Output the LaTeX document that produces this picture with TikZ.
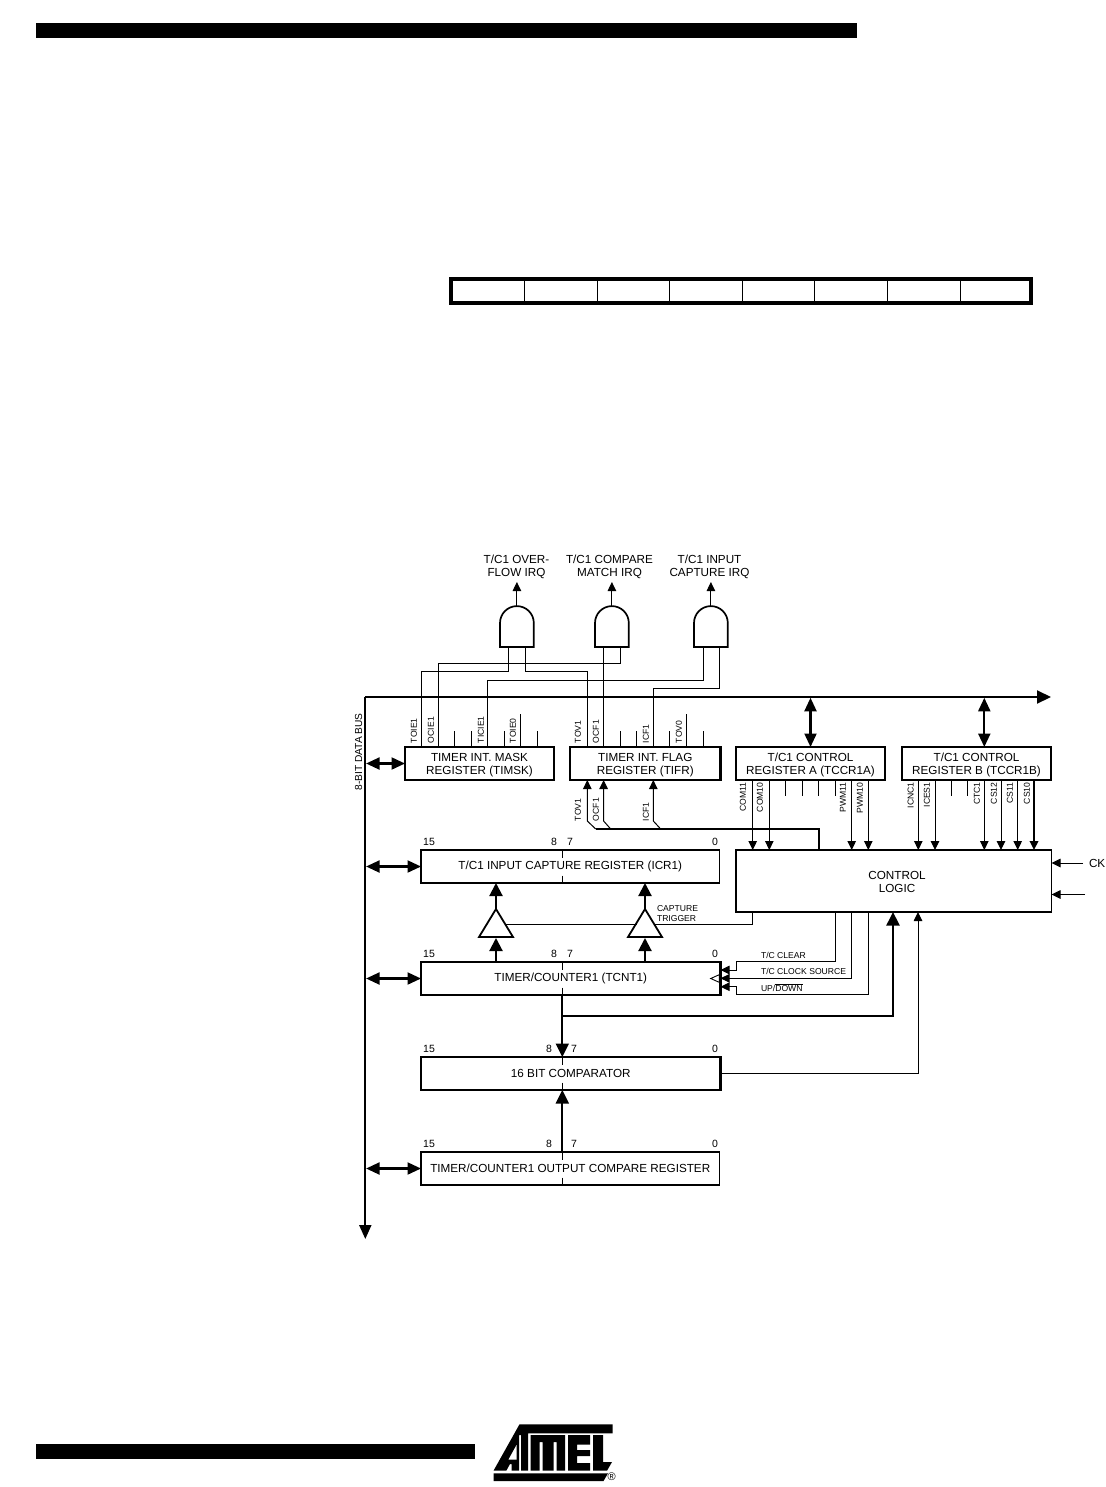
\documentclass[tikz,border=0pt]{standalone}
\usepackage{fontspec}
\setmainfont{Liberation Sans}
\usetikzlibrary{arrows.meta,calc}
\tikzset{
  x=1pt,y=-1pt,
  regbox/.style={draw=black,fill=white,line width=#1,rectangle,inner sep=0pt,outer sep=0pt,align=center,font=\fontsize{11.7}{13.5}\selectfont},
  regbox/.default=2.2pt,
  thinw/.style={line width=1pt,draw=black},
  thickw/.style={line width=2.1pt,draw=black},
  tipS/.style={-{Triangle[length=9pt,width=8.5pt]}},
  tipB/.style={-{Triangle[length=13.5pt,width=13pt]}},
  tipD/.style={{Triangle[length=13.5pt,width=12pt]}-{Triangle[length=13.5pt,width=12pt]}},
  tiny/.style={font=\fontsize{8.6}{9}\selectfont,inner sep=0pt,outer sep=0pt},
  bitl/.style={font=\fontsize{10.5}{11}\selectfont,inner sep=0pt,outer sep=0pt},
  big/.style={font=\fontsize{11.7}{13}\selectfont,inner sep=0pt,outer sep=0pt,align=center},
  gateS/.style={line width=1.7pt,draw=black,fill=white,line join=miter},
  trig/.style={line width=1.8pt,draw=black,fill=white,line join=miter},
}
\newcommand{\regnode}[6][2.2pt]{\node[regbox=#1,minimum width=#4-#3,minimum height=#6-#5] (#2) at ({(#3+#4)/2},{(#5+#6)/2})}
\newcommand{\dropline}{\rule{0pt}{11.4pt}}
\begin{document}
\begin{tikzpicture}
\useasboundingbox (0,0) rectangle (1105,1487);
\fill[white] (0,0) rectangle (1105,1487);
% page bars
\fill[black] (36,23) rectangle (857,38);
\fill[black] (36,1444) rectangle (475,1459);
% register table
\draw[black,line width=3.8pt] (451,279) rectangle (1031,302.8);
\foreach \x in {524,597,669,742,814,887,960} \draw[black,line width=1pt] (\x,279) -- (\x,302.8);

% column coordinates
\foreach \n/\x in {a/421.7,b/438,c/454.7,d/471,e/487.5,f/504,g/520.5,h/537.5,
  i/587.3,j/603.6,k/620.3,l/636.7,m/653.3,n/669.7,o/686,p/703,
  q/752.7,r/769.3,s/785.5,t/802.3,u/818.8,v/835.3,w/851.7,z/868.3,
  A/918.3,B/935,C/951.3,D/967.7,E/984.3,F/1001,G/1017.7,H/1034,
  X/562.3,Y/893,Z/918}
  \coordinate (c\n) at (\x,0);
\coordinate (busL) at (365.3,697);
\coordinate (busR) at (1051,697);
\coordinate (busB) at (365.3,1239);

% registers
\regnode{timsk}{405}{554}{747}{780} {\dropline TIMER INT. MASK\\REGISTER (TIMSK)};
\regnode{tifr}{570}{720.5}{747}{780} {\dropline TIMER INT. FLAG\\REGISTER (TIFR)};
\regnode[1.8pt]{tccra}{736}{885}{747}{780} {\dropline T/C1 CONTROL\\REGISTER A (TCCR1A)};
\regnode[1.8pt]{tccrb}{902}{1051}{747}{780} {\dropline T/C1 CONTROL\\REGISTER B (TCCR1B)};
\regnode[1.8pt]{ctrl}{736}{1051.5}{850}{912} {};
\node[big] (ctrltext) at (897,881.5) {CONTROL\\LOGIC};
\regnode[1.8pt]{icr}{421}{719.5}{850}{883} {T/C1 INPUT CAPTURE REGISTER (ICR1)};
\regnode[2.5pt]{tcnt}{421}{720.5}{962}{995} {TIMER/COUNTER1 (TCNT1)};
\regnode[2.5pt]{comp}{421}{720.5}{1057}{1090} {16 BIT COMPARATOR};
\regnode[1.8pt]{ocr}{421}{719.5}{1152}{1185} {TIMER/COUNTER1 OUTPUT COMPARE REGISTER};

% data bus
\draw[line width=2pt,line join=miter,-{Triangle[length=14pt,width=13pt]}] (busL) -- (busR);
\draw[line width=2pt,-{Triangle[length=14pt,width=12pt]}] (busL) -- (busB);
\node[font=\fontsize{10.2}{11}\selectfont,inner sep=0pt,rotate=90] (buslabel) at (358.5,752) {8-BIT DATA BUS};

% bus drops
\foreach \b in {timsk,icr,tcnt,ocr}
  \draw[thickw,tipD] ($(busL)!(\b.west)!(busB)$) ++(0.8,0) -- (\b.west);
\draw[thickw,tipD] (tccra.north |- busL) ++(0,0.8) -- (tccra.north);
\draw[thickw,tipD] (cE |- busL) ++(0,0.8) -- (tccrb.north -| cE);

% gates
\foreach \n/\x in {1/500,2/595,3/694} {
  \draw[gateS] (\x,647) -- (\x,623) arc[start angle=180,end angle=0,radius=16.9pt] -- (\x+33.8,647) -- cycle;
  \coordinate (gt\n) at (\x+16.9,606);
}
\coordinate (g1a) at (508.4,648); \coordinate (g1b) at (525,648);
\coordinate (g2a) at (603.6,648); \coordinate (g2b) at (620.2,648);
\coordinate (g3a) at (703,648);   \coordinate (g3b) at (719.7,648);
\node[big] (irq1) at (516.5,567.3) {T/C1 OVER-\\FLOW IRQ};
\node[big] (irq2) at (609.5,567.3) {T/C1 COMPARE\\MATCH IRQ};
\node[big] (irq3) at (709.5,567.3) {T/C1 INPUT\\CAPTURE IRQ};
\draw[thinw,tipS] (gt1) -- ++(0,-24);
\draw[thinw,tipS] (gt2) -- ++(0,-24);
\draw[thinw,tipS] (gt3) -- ++(0,-24);

% gate inputs
\draw[thinw] (g1a) |- (ca |- 0,671.7) -- (timsk.north -| ca);
\draw[thinw] (g1b) |- (ci |- 0,671.7) -- (tifr.north -| ci);
\draw[thinw] (g2a) -- (tifr.north -| g2a);
\draw[thinw] (g2b) |- (cb |- 0,663.4) -- (timsk.north -| cb);
\draw[thinw] (g3a) |- (ce |- 0,680) -- (timsk.north -| ce);
\draw[thinw] (g3b) |- (cm |- 0,688.3) -- (tifr.north -| cm);

% stubs above registers
\foreach \c in {c,d,f,h} \draw[thinw] (timsk.north -| c\c) -- (c\c |- 0,730.7);
\draw[thinw] (timsk.north -| cg) -- (cg |- 0,714);
\foreach \c in {k,l,n,p} \draw[thinw] (tifr.north -| c\c) -- (c\c |- 0,730.7);
\draw[thinw] (tifr.north -| co) -- (co |- 0,713.5);

% labels above registers
\foreach \t/\x in {TOIE1/414,OCIE1/431,TICIE1/481,TOIE0/513,TOV1/578,OCF1/596,ICF1/646,TOV0/679}
  \node[tiny,rotate=90,anchor=west] (up\t) at (\x,743) {\t};
% labels below TIFR
\foreach \t/\x in {TOV1/578,OCF1/596,ICF1/646}
  \node[tiny,rotate=90,anchor=west] (dn\t) at (\x,821) {\t};

% flag arrows
\coordinate (hbusend) at (cu |- 0,829);
\draw[thinw,tipS] (595.7,829) coordinate (f1) -- (ci |- 0,821) -- (tifr.south -| ci);
\draw[thinw,tipS] (610.7,829) coordinate (f2) -- (cj |- 0,821) -- (tifr.south -| cj);
\draw[thinw,tipS] (660.7,829) coordinate (f3) -- (cm |- 0,821) -- (tifr.south -| cm);
\draw[thickw,line join=miter] (f1) -- (hbusend) -- (ctrl.north -| cu);

% TCCR1A
\foreach \c in {q,r,w,z} \draw[thinw,tipS] (tccra.south -| c\c) -- (ctrl.north -| c\c);
\foreach \c in {s,t,u,v} \draw[thinw] (tccra.south -| c\c) -- (c\c |- 0,795.7);
\foreach \t/\x in {COM11/743,COM10/760,PWM11/843,PWM10/860}
  \node[tiny,rotate=90,anchor=east] (lb\t) at (\x,782.5) {\t};
% TCCR1B
\foreach \c in {A,B,E,F,G} \draw[thinw,tipS] (tccrb.south -| c\c) -- (ctrl.north -| c\c);
\draw[line width=1.8pt,-{Triangle[length=9pt,width=8.5pt]}] (tccrb.south -| cH) -- (ctrl.north -| cH);
\foreach \c in {C,D} \draw[thinw] (tccrb.south -| c\c) -- (c\c |- 0,796);
\foreach \t/\x in {ICNC1/910.7,ICES1/927,CTC1/977,CS12/994,CS11/1010,CS10/1027}
  \node[tiny,rotate=90,anchor=east] (lb\t) at (\x,782.5) {\t};

% CK
\coordinate (ck1) at (1083,863);
\coordinate (ck2) at (1085,894.5);
\draw[thinw,tipS] (ck1) -- (ctrl.east |- ck1);
\draw[thinw,tipS] (ck2) -- (ctrl.east |- ck2);
\node[big,anchor=west] (cklabel) at (1089,863.5) {CK};

% register bit ticks
\foreach \h in {850,962,1057,1152} {
  \draw[thinw] (cX |- 0,\h) -- (cX |- 0,\h+7.5);
  \draw[thinw] (cX |- 0,\h+25.5) -- (cX |- 0,\h+33);
}
% bit labels
\foreach \s/\y/\ex/\sx in {icr/842/554/570,tcn/954/554/570,cmp/1049/549/574,ocr/1144/549/574} {
  \node[bitl] (b15\s) at (429,\y) {15};
  \node[bitl] (b8\s) at (\ex,\y) {8};
  \node[bitl] (b7\s) at (\sx,\y) {7};
  \node[bitl] (b0\s) at (715,\y) {0};
}

% triangles
\foreach \n/\x in {a/496,b/645} {
  \draw[trig] (\x,909) -- (\x+17,937) -- (\x-17,937) -- cycle;
  \coordinate (tr\n) at (\x,909);
  \coordinate (trb\n) at (\x,938);
  \draw[thickw,-{Triangle[length=13pt,width=13pt]}] (tr\n) -- (icr.south -| tr\n);
  \draw[thickw,-{Triangle[length=13pt,width=13pt]}] (tcnt.north -| tr\n) -- (trb\n);
}
\coordinate (ct) at (cq |- 0,924.3);
\draw[thinw] (506,924.3) -- (636.5,924.3);
\draw[thinw] (653.5,924.3) -- (ct) -- (ctrl.south -| cq);
\node[tiny,anchor=west] (cap1) at (657,909) {CAPTURE};
\node[tiny,anchor=west] (cap2) at (657,919) {TRIGGER};

% control to TCNT
\coordinate (s1) at (736,961.7);
\draw[thinw,tipS] (ctrl.south -| cv) |- (s1) -- (736,970) -- (tcnt.east |- 0,970);
\draw[thinw,tipS] (ctrl.south -| cw) |- (tcnt.east |- 0,978.3);
\draw[thinw,tipS] (ctrl.south -| cz) |- (736,994.3) -- (736,986.7) -- (tcnt.east |- 0,986.7);
\node[tiny,anchor=west] (tcc) at (761,955) {T/C CLEAR};
\node[tiny,anchor=west] (tcs) at (761,971) {T/C CLOCK SOURCE};
\node[tiny,anchor=west] (upd) at (761,987.7) {UP/$\overline{\mbox{DOWN}}$};
\draw[line width=0.9pt,fill=white,line join=miter] (719.4,974.6) coordinate (ckt) -- (710.7,978.5) -- (719.4,982.4) -- cycle;

% counter to comparator and control
\coordinate (br) at (cX |- 0,1016);
\draw[thickw,tipB] (tcnt.south -| cX) -- (comp.north -| cX);
\draw[thickw,line join=miter,tipB] (br) -| (ctrl.south -| cY);
\draw[thickw,tipB] (ocr.north -| cX) -- (comp.south -| cX);
\draw[thinw,tipS] (comp.east) -| (ctrl.south -| cZ);

% logo
\fill[black] (519.5,1424.3) -- (612.5,1424.3) -- (612.5,1433.3) -- (528,1433.3) -- (528,1470.7) -- (521,1470.7) -- (521,1435) -- (519,1435) -- (519,1470.7) -- (511.5,1470.7) -- (511.5,1464) -- (510,1464) -- (506.3,1470.7) -- (493.5,1470.7) -- cycle;
\fill[white] (516.5,1445) -- (516.5,1459.5) -- (508.5,1459.5) -- cycle;
\fill[black] (530.5,1435) -- (565,1435) -- (565,1470.7) -- (556.5,1470.7) -- (556.5,1442) -- (553.5,1442) -- (553.5,1470.7) -- (542.5,1470.7) -- (542.5,1442) -- (539.5,1442) -- (539.5,1470.7) -- (530.5,1470.7) -- cycle;
\fill[black] (568,1435) -- (590,1435) -- (590,1444.5) -- (577,1444.5) -- (577,1450) -- (590,1450) -- (590,1456) -- (577,1456) -- (577,1463) -- (590,1463) -- (590,1470.7) -- (568,1470.7) -- cycle;
\fill[black] (593,1435) -- (603,1435) -- (603,1462) -- (612,1462) -- (607,1470.7) -- (593,1470.7) -- cycle;
\fill[black] (493.5,1473.3) -- (608,1473.3) -- (603.5,1481) -- (493.5,1481) -- cycle;
\node[font=\fontsize{11}{11}\selectfont,inner sep=0pt] (reg) at (611.7,1476.5) {®};
\end{tikzpicture}
\end{document}
